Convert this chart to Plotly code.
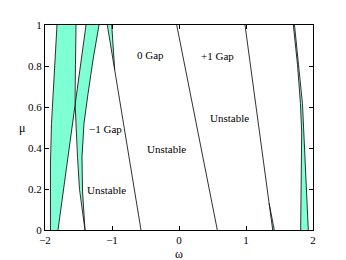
import numpy as np
import plotly.graph_objects as go

# ---- measured curves (mu ascending) ----
L0_mu = [0.0, 0.332, 0.521, 0.673, 0.853, 1.0]
L0_w = [-1.918, -1.918, -1.903, -1.876, -1.851, -1.821]

line1_mu = [0.0, 1.0]
line1_w = [-1.806, -1.388]

line2_mu = [0.0, 0.199, 0.355, 0.474, 0.626, 0.806, 1.0]
line2_w = [-1.403, -1.485, -1.515, -1.530, -1.552, -1.545, -1.537]

R_mu = [0.0, 0.190, 0.355, 0.521, 0.664, 0.829, 1.0]
R_w = [-1.403, -1.440, -1.448, -1.418, -1.358, -1.284, -1.194]

line3_mu = [0.0, 1.0]
line3_w = [-0.567, -1.070]

C_mu = [0.782, 0.877, 1.0]
C_w = [-0.960, -0.978, -1.004]

line4_mu = [0.0, 1.0]
line4_w = [0.572, -0.034]

line5_mu = [0.0, 1.0]
line5_w = [1.399, 0.985]

S5_mu = [0.0, 0.06, 0.13]
S5_w = [1.422, 1.385, 1.345]

D_left_mu = [0.0, 0.237, 0.474, 0.616, 0.806, 1.0]
D_left_w = [1.816, 1.828, 1.831, 1.813, 1.769, 1.706]
D_right_mu = [0.0, 0.237, 0.474, 0.616, 0.806, 1.0]
D_right_w = [1.930, 1.896, 1.866, 1.843, 1.784, 1.724]

labels = ["0 Gap", "+1 Gap", "\u22121 Gap", "Unstable", "Unstable", "Unstable"]
label_w = [-0.43, 0.57, -1.09, -1.075, -0.19, 0.76]
label_mu = [0.853, 0.848, 0.493, 0.194, 0.393, 0.545]

xticks = [-2, -1, 0, 1, 2]
xticktext = ["\u22122", "\u22121", "0", "1", "2"]
yticks = [0, 0.2, 0.4, 0.6, 0.8, 1]
yticktext = ["0", "0.2", "0.4", "0.6", "0.8", "1"]

FILL = "#7FFFD4"
LINE = "#1a1a1a"

grid = np.linspace(0, 1, 401)
def f(mu, w):
    return np.interp(grid, mu, w)

fig = go.Figure()

def band(left, right, mu_lo=0.0, mu_hi=1.0):
    m = (grid >= mu_lo) & (grid <= mu_hi)
    xs = np.concatenate([left[m], right[m][::-1]])
    ys = np.concatenate([grid[m], grid[m][::-1]])
    fig.add_trace(go.Scatter(x=xs, y=ys, fill="toself", fillcolor=FILL,
                             mode="lines", line=dict(width=0), hoverinfo="skip"))

l0 = f(L0_mu, L0_w)
l1 = f(line1_mu, line1_w)
l2 = f(line2_mu, line2_w)
r = f(R_mu, R_w)
band(l0, np.minimum(l1, l2))
band(np.maximum(l1, l2), r)

l3 = f(line3_mu, line3_w)
c = f(C_mu, C_w)
band(l3, c, C_mu[0], 1.0)

l5 = f(line5_mu, line5_w)
s5 = f(S5_mu, S5_w)
band(l5, s5, 0.0, S5_mu[-1])

band(f(D_left_mu, D_left_w), f(D_right_mu, D_right_w))

curves = [(L0_mu, L0_w), (line1_mu, line1_w), (line2_mu, line2_w), (R_mu, R_w),
          (line3_mu, line3_w), (C_mu, C_w), (line4_mu, line4_w), (line5_mu, line5_w),
          (S5_mu, S5_w), (D_left_mu, D_left_w), (D_right_mu, D_right_w)]
for mu, w in curves:
    fig.add_trace(go.Scatter(x=w, y=mu, mode="lines",
                             line=dict(color=LINE, width=0.9), hoverinfo="skip"))

for t, xw, ym in zip(labels, label_w, label_mu):
    fig.add_annotation(x=xw, y=ym, text=t, showarrow=False,
                       font=dict(family="Liberation Serif", size=11, color="black"))

fig.add_annotation(x=0.5, y=0, xref="paper", yref="paper", text="\u03c9",
                   showarrow=False, yanchor="top", yshift=-15,
                   font=dict(family="Liberation Serif", size=12, color="black"))
fig.add_annotation(x=0, y=0.5, xref="paper", yref="paper", text="\u03bc",
                   showarrow=False, xanchor="right", xshift=-18,
                   font=dict(family="Liberation Serif", size=12, color="black"))

axis_common = dict(showline=True, linecolor="black", linewidth=1, mirror="ticks",
                   ticks="inside", ticklen=4, tickcolor="black", showgrid=False,
                   zeroline=False, tickfont=dict(family="Liberation Serif", size=11, color="black"))
fig.update_xaxes(range=[-2, 2], tickvals=xticks, ticktext=xticktext, **axis_common)
fig.update_yaxes(range=[0, 1], tickvals=yticks, ticktext=yticktext, **axis_common)

# page body has an 8px default margin, so the figure is offset by 8px
fig.update_layout(width=338, height=252, margin=dict(l=37, r=33, t=11, b=30),
                  plot_bgcolor="white", paper_bgcolor="white", showlegend=False,
                  font=dict(family="Liberation Serif", size=11, color="black"))

fig.write_html("out.html")
